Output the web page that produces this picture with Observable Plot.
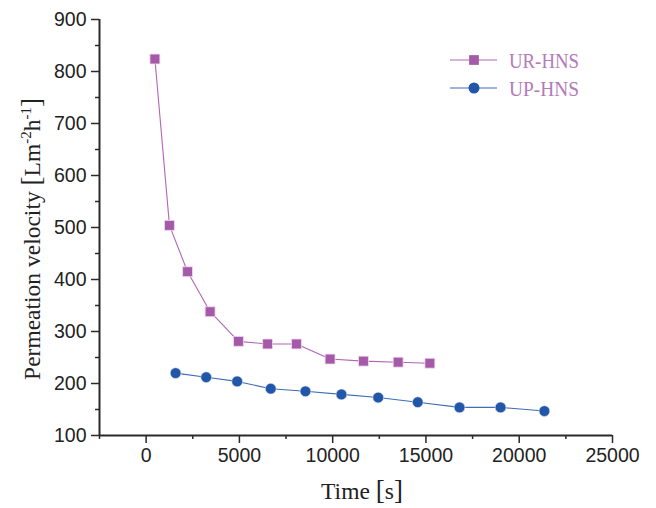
<!DOCTYPE html>
<html><head><meta charset="utf-8">
<script src="https://cdn.jsdelivr.net/npm/d3@7"></script>
<script src="https://cdn.jsdelivr.net/npm/@observablehq/plot@0.6"></script>
<style>body{margin:0;background:#fff}</style>
</head><body><div id="chart"></div>
<script>
// Data
const seriesNames = ["UR-HNS", "UP-HNS"];
const urTime = [470, 1250, 2220, 3430, 4950, 6510, 8060, 9860, 11650, 13510, 15210];
const urVel  = [824, 504, 415, 338, 281, 276, 276, 247, 243, 241, 239];
const upTime = [1580, 3220, 4880, 6680, 8540, 10470, 12440, 14560, 16800, 19000, 21350];
const upVel  = [220, 212, 204, 190, 185, 179, 173, 164, 154, 154, 147];
const xTicks = [0, 5000, 10000, 15000, 20000, 25000];
const xMinor = [-2500, 2500, 7500, 12500, 17500, 22500];
const yTicks = [100, 200, 300, 400, 500, 600, 700, 800, 900];
const yMinor = [150, 250, 350, 450, 550, 650, 750, 850];
const xLabel = "Time";
const xUnit = "[s]";
const yLabel = "Permeation velocity ";

const ur = urTime.map((t, i) => ({t, v: urVel[i]}));
const up = upTime.map((t, i) => ({t, v: upVel[i]}));

const purple = "#a55aa8", purpleLine = "#b066b4", blue = "#2256a8", blueLine = "#3d6cb8";
const axisColor = "#2a2a2a";
const W = 656, H = 508, ML = 99, MR = 44, MT = 19, MB = 73;

const chart = Plot.plot({
  width: W, height: H, marginLeft: ML, marginRight: MR, marginTop: MT, marginBottom: MB,
  x: {domain: [-2500, 25000], label: null},
  y: {domain: [100, 900], label: null},
  style: {fontFamily: "'Liberation Sans', Arial, sans-serif", background: "#fff", color: "#222", overflow: "visible"},
  marks: [
    Plot.axisX(xMinor, {tickSize: 4, tickFormat: () => "", stroke: axisColor, strokeWidth: 1.5, label: null}),
    Plot.axisX(xTicks, {tickSize: 8, tickPadding: 5, tickFormat: d => String(d), fontSize: 19.5, fill: "#222", stroke: axisColor, strokeWidth: 1.5, label: null}),
    Plot.axisY(yMinor, {tickSize: 4, tickFormat: () => "", stroke: axisColor, strokeWidth: 1.5, label: null}),
    Plot.axisY(yTicks, {tickSize: 8, tickPadding: 5, tickFormat: d => String(d), fontSize: 19.5, fill: "#222", stroke: axisColor, strokeWidth: 1.5, label: null}),
    Plot.ruleX([-2500], {stroke: axisColor, strokeWidth: 2}),
    Plot.ruleY([100], {stroke: axisColor, strokeWidth: 2}),
    Plot.line(ur, {x: "t", y: "v", stroke: purpleLine, strokeWidth: 1.1}),
    Plot.line(up, {x: "t", y: "v", stroke: blueLine, strokeWidth: 1.1}),
    Plot.dot(ur, {x: "t", y: "v", symbol: "square", r: 5.6, fill: purple, stroke: "#f0dcf0", strokeWidth: 0.8}),
    Plot.dot(up, {x: "t", y: "v", symbol: "circle", r: 5.4, fill: blue, stroke: "#dfe8f5", strokeWidth: 0.6})
  ]
});
document.getElementById("chart").appendChild(chart);

const svg = d3.select(chart);
const serif = "'Liberation Serif', 'Times New Roman', serif";

// y-axis label with superscripts
const yl = svg.append("text")
  .attr("transform", "translate(40,239) rotate(-90)")
  .attr("text-anchor", "middle")
  .attr("font-family", serif).attr("font-size", 23.5).attr("fill", "#222");
yl.append("tspan").text(yLabel);
yl.append("tspan").attr("font-size", 27).text("[");
yl.append("tspan").text("Lm");
yl.append("tspan").attr("font-size", 15).attr("dy", -9).text("-2");
yl.append("tspan").attr("dy", 9).text("h");
yl.append("tspan").attr("font-size", 15).attr("dy", -9).text("-1");
yl.append("tspan").attr("dy", 9).attr("font-size", 27).text("]");

// x-axis label
const xl = svg.append("text")
  .attr("x", 362).attr("y", 499)
  .attr("text-anchor", "middle")
  .attr("font-family", serif).attr("font-size", 23.5).attr("fill", "#222");
xl.append("tspan").text(xLabel + " ");
xl.append("tspan").attr("font-size", 27).text(xUnit[0]);
xl.append("tspan").text(xUnit[1]);
xl.append("tspan").attr("font-size", 27).text(xUnit[2]);

// legend
const leg = svg.append("g").attr("text-anchor", "start");
const items = [
  {name: seriesNames[0], line: purpleLine, fill: purple, sym: d3.symbolSquare, y: 60},
  {name: seriesNames[1], line: blueLine, fill: blue, sym: d3.symbolCircle, y: 88}
];
items.forEach(it => {
  leg.append("line").attr("x1", 450).attr("x2", 497).attr("y1", it.y).attr("y2", it.y)
    .attr("stroke", it.line).attr("stroke-width", 1.1);
  leg.append("path").attr("d", d3.symbol(it.sym, Math.PI * 5.5 * 5.5)())
    .attr("transform", `translate(474,${it.y})`).attr("fill", it.fill);
  leg.append("text").attr("x", 509).attr("y", it.y + 7.5)
    .attr("text-anchor", "start")
    .attr("font-family", serif).attr("font-size", 22).attr("fill", "#b57ab8")
    .attr("textLength", 70).attr("lengthAdjust", "spacingAndGlyphs")
    .text(it.name);
});
</script>
</body></html>
